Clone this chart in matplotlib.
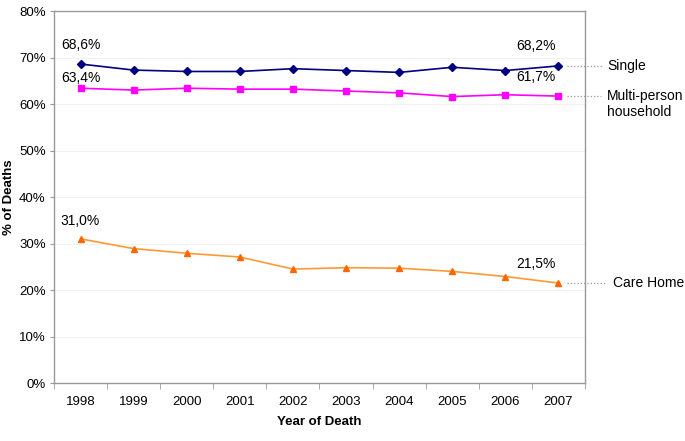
import numpy as np
import matplotlib.pyplot as plt

plt.rcParams['font.family'] = ['Liberation Sans', 'DejaVu Sans']

years = ['1998', '1999', '2000', '2001', '2002', '2003', '2004', '2005', '2006', '2007']
single = [68.6, 67.3, 67.0, 67.0, 67.6, 67.2, 66.8, 67.9, 67.2, 68.2]
multi = [63.4, 63.0, 63.4, 63.2, 63.2, 62.8, 62.4, 61.6, 62.0, 61.7]
care = [31.0, 28.9, 27.9, 27.1, 24.5, 24.8, 24.7, 24.0, 22.9, 21.5]
y_ticks = [0, 10, 20, 30, 40, 50, 60, 70, 80]
series_names = ['Single', 'Multi-person\nhousehold', 'Care Home']

fig = plt.figure(figsize=(6.85, 4.41), dpi=100)
ax = fig.add_axes([0.0788, 0.1315, 0.7752, 0.8435])

x = np.arange(len(years))
ax.plot(x, single, color='#000080', lw=1.2, marker='D', ms=4)
ax.plot(x, multi, color='#FF00FF', lw=1.2, marker='s', ms=5)
ax.plot(x, care, color='#FF9933', lw=1.2, marker='^', ms=5,
        mfc='#FF6600', mec='#FF6600')

ax.set_xlim(-0.5, len(years) - 0.5)
ax.set_ylim(0, 80)
ax.set_yticks(y_ticks)
ax.set_yticklabels(['%d%%' % v for v in y_ticks], fontsize=9.5)
ax.set_xticks(x)
ax.set_xticklabels(years, fontsize=9.5)
ax.set_xticks(np.arange(-0.5, len(years), 1), minor=True)
ax.tick_params(axis='x', which='major', length=0, pad=9)
ax.tick_params(axis='x', which='minor', length=4, color='#999999')
ax.tick_params(axis='y', length=3, color='#999999', pad=3)
ax.grid(axis='y', color='#f2f2f2', lw=0.8)
ax.set_axisbelow(True)
for s in ax.spines.values():
    s.set_color('#999999')
    s.set_linewidth(1)

ax.set_xlabel('Year of Death', fontsize=9.5, fontweight='bold', labelpad=6)
ax.set_ylabel('% of Deaths', fontsize=9.5, fontweight='bold')
ax.yaxis.set_label_coords(-0.073, 0.5)

def fmt(v):
    return ('%.1f%%' % v).replace('.', ',')

# value labels at first and last year
ax.annotate(fmt(single[0]), (0, single[0]), xytext=(0, 9), textcoords='offset points',
            ha='center', va='bottom', fontsize=10)
ax.annotate(fmt(multi[0]), (0, single[0]), xytext=(0, -5), textcoords='offset points',
            ha='center', va='top', fontsize=10)
ax.annotate(fmt(care[0]), (0, care[0]), xytext=(0, 8), textcoords='offset points',
            ha='center', va='bottom', fontsize=10)
ax.annotate(fmt(single[-1]), (9, single[-1]), xytext=(-16, 9), textcoords='offset points',
            ha='center', va='bottom', fontsize=10)
ax.annotate(fmt(multi[-1]), (9, multi[-1]), xytext=(-16, 9), textcoords='offset points',
            ha='center', va='bottom', fontsize=10)
ax.annotate(fmt(care[-1]), (9, care[-1]), xytext=(-16, 9), textcoords='offset points',
            ha='center', va='bottom', fontsize=10)

# right-hand series labels with dotted leaders
last_vals = [single[-1], multi[-1], care[-1]]
for name, v, x_end, x_txt in zip(series_names, last_vals, [9.83, 9.8, 9.87], [1.042, 1.042, 1.053]):
    ax.plot([9.16, x_end], [v, v], ls=':', color='#999999', lw=0.9, clip_on=False)
    first, *rest = name.split('\n')
    ax.text(x_txt, v, first, transform=ax.get_yaxis_transform(), ha='left',
            va='center', fontsize=10, clip_on=False)
    if rest:
        ax.text(x_txt, v - 3.4, rest[0], transform=ax.get_yaxis_transform(), ha='left',
                va='center', fontsize=10, clip_on=False)

fig.savefig('out.png', dpi=100)
